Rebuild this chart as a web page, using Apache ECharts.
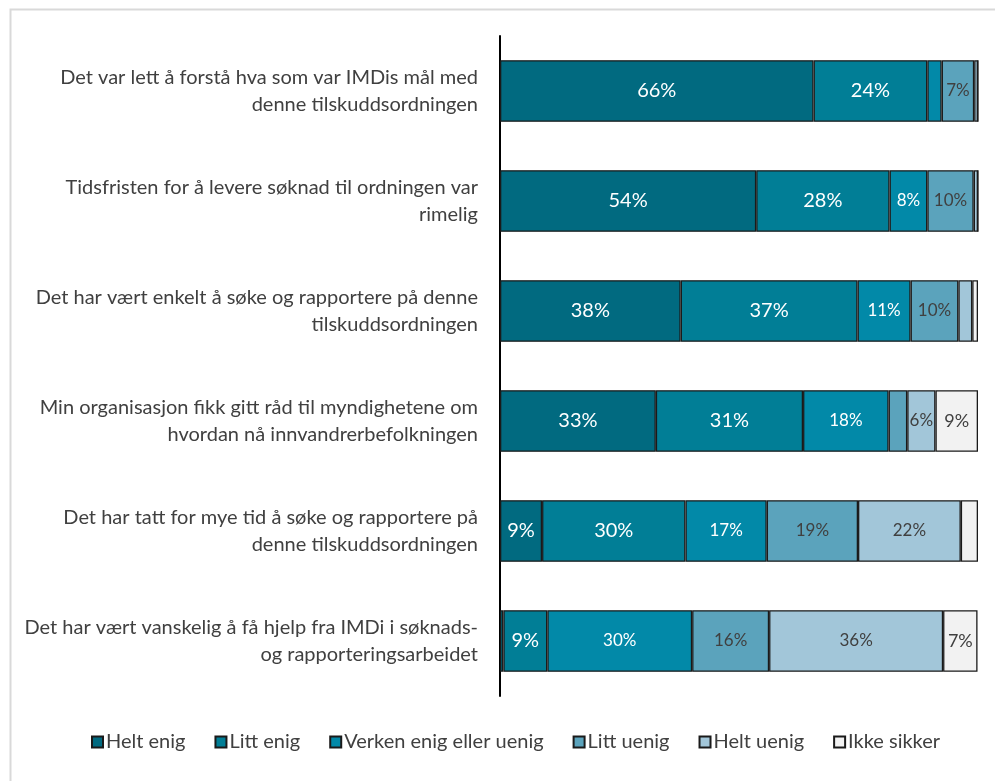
<!DOCTYPE html>
<html>
<head>
<meta charset="utf-8">
<script src="https://cdn.jsdelivr.net/npm/echarts@6/dist/echarts.min.js"></script>
<style>
html,body{margin:0;padding:0;background:#fff;}
#c{width:995px;height:781px;}
</style>
</head>
<body>
<div id="c"></div>
<script>
const categories = [
  "Det var lett å forstå hva som var IMDis mål med\ndenne tilskuddsordningen",
  "Tidsfristen for å levere søknad til ordningen var\nrimelig",
  "Det har vært enkelt å søke og rapportere på denne\ntilskuddsordningen",
  "Min organisasjon fikk gitt råd til myndighetene om\nhvordan nå innvandrerbefolkningen",
  "Det har tatt for mye tid å søke og rapportere på\ndenne tilskuddsordningen",
  "Det har vært vanskelig å få hjelp fra IMDi i søknads-\nog rapporteringsarbeidet"
];
const seriesNames = ["Helt enig", "Litt enig", "Verken enig eller uenig", "Litt uenig", "Helt uenig", "Ikke sikker"];
const heltEnig   = [65.6, 53.6, 37.8, 32.6, 8.8, 0.7];
const littEnig   = [23.8, 27.9, 37.0, 30.8, 30.0, 9.2];
const verken     = [3.0, 7.9, 11.1, 17.9, 17.0, 30.3];
const littUenig  = [6.8, 9.7, 10.0, 3.9, 19.1, 16.1];
const heltUenig  = [0.8, 0.9, 2.9, 5.9, 21.5, 36.4];
const ikkeSikker = [0, 0, 1.2, 8.9, 3.6, 7.2];

const values = [heltEnig, littEnig, verken, littUenig, heltUenig, ikkeSikker];
const colors = ["#016a80", "#017e96", "#0289a8", "#5ba3bc", "#a2c6d9", "#f2f2f2"];
const labelColors = ["#ffffff", "#ffffff", "#ffffff", "#404040", "#404040", "#404040"];
const labelSizes = [20, 20, 17, 17, 17, 18];

const chart = echarts.init(document.getElementById('c'), null, {renderer: 'canvas'});
const FONT = 'Lato';
chart.setOption({
  animation: false,
  backgroundColor: '#ffffff',
  graphic: [{
    type: 'rect', left: 8, top: 7,
    shape: {width: 1000, height: 800},
    style: {fill: 'none', stroke: '#d9d9d9', lineWidth: 2},
    silent: true, z: -1
  }],
  grid: {left: 500, right: 17, top: 36, bottom: 85, containLabel: false},
  xAxis: {
    type: 'value', min: 0, max: 100, show: false
  },
  yAxis: {
    type: 'category', data: categories, inverse: true,
    axisLine: {show: true, lineStyle: {color: '#000', width: 2}},
    axisTick: {show: false},
    axisLabel: {
      color: '#404040', fontFamily: FONT, fontSize: 20, lineHeight: 27,
      align: 'right', margin: 22
    }
  },
  legend: {
    bottom: 24, left: 86,
    icon: 'rect', itemWidth: 11, itemHeight: 11, itemGap: 29,
    textStyle: {color: '#404040', fontFamily: FONT, fontSize: 20, padding: [0, 0, 0, -2]},
    data: seriesNames
  },
  series: seriesNames.map((n, i) => ({
    name: n, type: 'bar', stack: 'all', barCategoryGap: '44%',
    data: values[i],
    itemStyle: {color: colors[i], borderColor: '#1a1a1a', borderWidth: 1.3},
    label: {
      show: true, position: 'inside',
      color: labelColors[i], fontFamily: FONT, fontSize: labelSizes[i],
      formatter: p => p.value >= 5 ? Math.round(p.value) + '%' : ''
    }
  }))
});
</script>
</body>
</html>
